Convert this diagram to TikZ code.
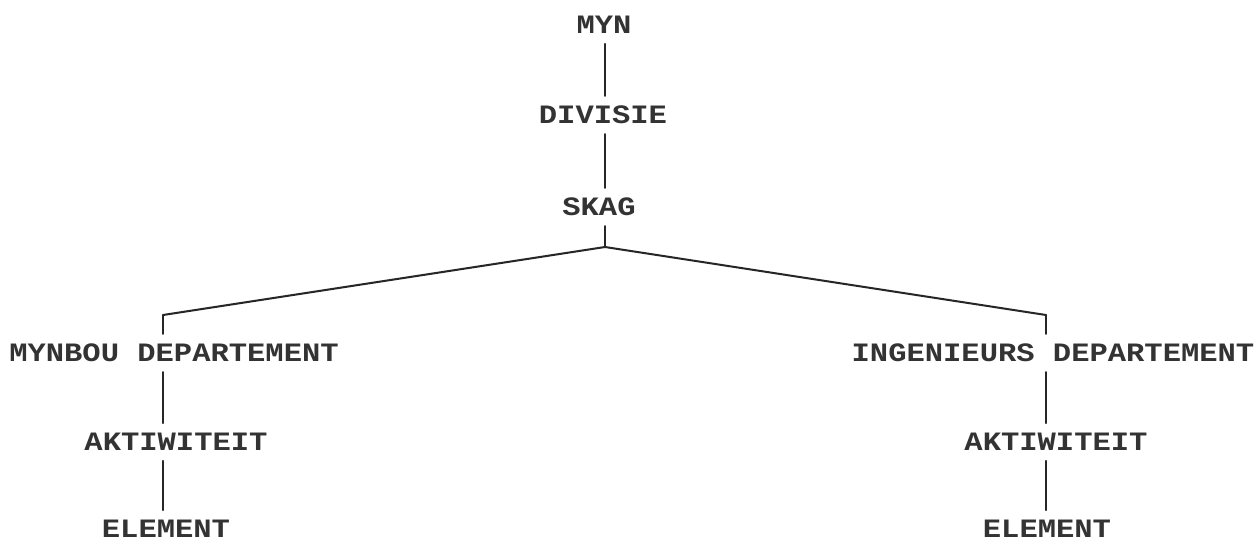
\documentclass[tikz,border=0pt]{standalone}
\usepackage{fontspec}
\newfontfamily\monofam{Liberation Mono}
\newcommand\lbtext[1]{\scalebox{1}[0.87]{#1}}
\begin{document}
\begin{tikzpicture}[x=1pt,y=1pt,
  lbl/.style={inner xsep=0pt, inner ysep=10pt, font=\monofam\bfseries\fontsize{30.5}{30.5}\selectfont, text=black!80},
  conn/.style={line width=2pt, line cap=round, draw=black!85}]
\useasboundingbox (0,0) rectangle (1259,-542);
\fill[white] (0,0) rectangle (1259,-542);
\node[lbl] (myn)  at (604,-25)  {\lbtext{MYN}};
\node[lbl] (div)  at (603,-115) {\lbtext{DIVISIE}};
\node[lbl] (skag) at (599,-207) {\lbtext{SKAG}};
\node[lbl] (mdep) at (174,-353) {\lbtext{MYNBOU DEPARTEMENT}};
\node[lbl] (lakt) at (176,-442) {\lbtext{AKTIWITEIT}};
\node[lbl] (lel)  at (166,-529) {\lbtext{ELEMENT}};
\node[lbl] (idep) at (1053,-353) {\lbtext{INGENIEURS DEPARTEMENT}};
\node[lbl] (rakt) at (1056,-442) {\lbtext{AKTIWITEIT}};
\node[lbl] (rel)  at (1047,-529) {\lbtext{ELEMENT}};
\coordinate (apex) at (605,-247);
\coordinate (lc) at (163,-315);
\coordinate (rc) at (1046,-315);
\draw[conn] (myn.south -| apex) -- (div.north -| apex);
\draw[conn] (div.south -| apex) -- (skag.north -| apex);
\draw[conn] (skag.south -| apex) -- (apex);
\draw[conn] (lc) -- (apex) -- (rc);
\draw[conn] (lc) -- (mdep.north -| lc);
\draw[conn] (mdep.south -| lc) -- (lakt.north -| lc);
\draw[conn] (lakt.south -| lc) -- (lel.north -| lc);
\draw[conn] (rc) -- (idep.north -| rc);
\draw[conn] (idep.south -| rc) -- (rakt.north -| rc);
\draw[conn] (rakt.south -| rc) -- (rel.north -| rc);
\end{tikzpicture}
\end{document}
